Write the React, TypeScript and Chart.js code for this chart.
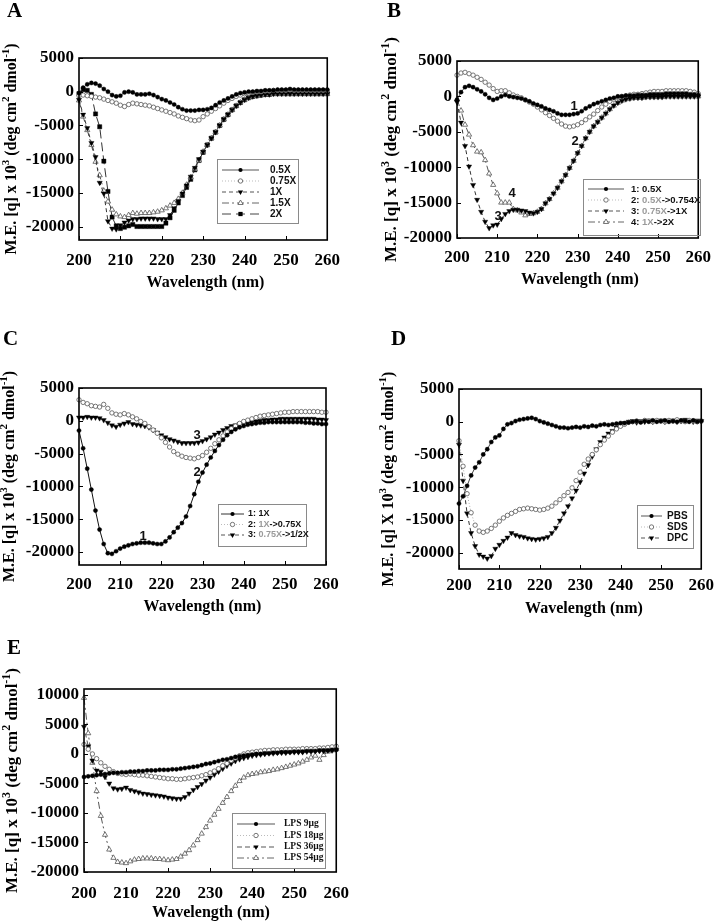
import React, { useEffect, useRef } from "react";
import { Chart, registerables } from "chart.js";
Chart.register(...registerables);

// ---------------- DATA ----------------
const wavelengths = [
  200, 201, 202, 203, 204, 205, 206, 207, 208, 209,
  210, 211, 212, 213, 214, 215, 216, 217, 218, 219,
  220, 221, 222, 223, 224, 225, 226, 227, 228, 229,
  230, 231, 232, 233, 234, 235, 236, 237, 238, 239,
  240, 241, 242, 243, 244, 245, 246, 247, 248, 249,
  250, 251, 252, 253, 254, 255, 256, 257, 258, 259,
  260,
];
const xTicks = [200, 210, 220, 230, 240, 250, 260];
const yTicksStd = [5000, 0, -5000, -10000, -15000, -20000];
const yTicksE = [10000, 5000, 0, -5000, -10000, -15000, -20000];

// Panel A
const a05 = [
  -200, 600, 1100, 1300, 1200, 900, 400, 0, -500, -700,
  -600, -100, 0, -100, -400, -400, -400, -300, -500, -800,
  -1100, -1300, -1600, -1900, -2300, -2600, -2800, -2800, -2800, -2700,
  -2700, -2600, -2400, -2000, -1600, -1300, -1000, -700, -400, -200,
  -100, 0, 0, 100, 100, 200, 200, 200, 300, 300,
  300, 400, 300, 300, 300, 300, 300, 300, 300, 300,
  300,
];
const a075 = [
  -600, -500, -600, -700, -800, -900, -1100, -1300, -1500, -1700,
  -2000, -2200, -1900, -1700, -1800, -1900, -2000, -2100, -2300, -2500,
  -2700, -2900, -3100, -3300, -3600, -3800, -4000, -4200, -4300, -4200,
  -3700, -3300, -2900, -2500, -2100, -1700, -1300, -1000, -700, -500,
  -300, -200, -100, 0, 0, 100, 100, 200, 200, 200,
  200, 300, 200, 200, 200, 200, 200, 200, 200, 200,
  200,
];
const a1 = [
  -1200, -3400, -5400, -7600, -9700, -13500, -15100, -19200, -20300, -20400,
  -19800, -19400, -19100, -18900, -18900, -18800, -18800, -18800, -18800, -18900,
  -18900, -18900, -18300, -17300, -16200, -15100, -13900, -12600, -11300, -10000,
  -8900, -7900, -6900, -6000, -5000, -4100, -3400, -2700, -2100, -1600,
  -1200, -900, -700, -600, -500, -400, -400, -300, -300, -300,
  -300, -300, -300, -300, -300, -300, -300, -300, -300, -300,
  -300,
];
const a15 = [
  -1300, -3700, -5700, -7900, -10400, -12400, -14700, -16300, -17500, -18200,
  -18500, -18600, -18300, -18000, -18100, -18000, -18000, -18000, -17900, -17800,
  -17600, -17300, -16900, -16500, -15900, -15000, -13800, -12700, -11500, -10200,
  -8900, -7900, -6900, -6000, -5000, -4100, -3400, -2700, -2100, -1600,
  -1200, -900, -700, -600, -500, -400, -400, -300, -300, -300,
  -300, -300, -300, -300, -300, -300, -300, -300, -300, -300,
  -300,
];
const a2 = [
  -300, 300, 200, -400, -3300, -5200, -10300, -14800, -18600, -19900,
  -20300, -20100, -19900, -19700, -20000, -20000, -20000, -20000, -20000, -20000,
  -20000, -19500, -18700, -17600, -16500, -15400, -14200, -13000, -11600, -10200,
  -9000, -7900, -6900, -6000, -5000, -4100, -3400, -2700, -2100, -1600,
  -1200, -900, -700, -600, -500, -400, -400, -300, -300, -300,
  -300, -300, -300, -300, -300, -300, -300, -300, -300, -300,
  -300,
];

// Panel B
const b1 = [
  -500, 600, 1300, 1500, 1300, 1000, 700, 300, -200, -500,
  -300, 0, 200, 0, -100, -200, -300, -500, -700, -1000,
  -1200, -1400, -1700, -1900, -2100, -2400, -2600, -2600, -2600, -2500,
  -2400, -2100, -1700, -1400, -1100, -900, -700, -500, -300, -200,
  0, 0, 100, 100, 100, 200, 200, 200, 300, 300,
  300, 300, 400, 400, 400, 400, 400, 400, 300, 300,
  200,
];
const b2 = [
  3000, 3300, 3400, 3200, 3000, 2700, 2400, 2000, 1600, 1100,
  700, 800, 800, 500, 200, 0, -200, -500, -800, -1100,
  -1500, -1900, -2300, -2700, -3100, -3500, -3900, -4200, -4300, -4200,
  -4000, -3700, -3300, -2900, -2500, -2000, -1500, -1100, -700, -400,
  -100, 0, 100, 200, 300, 300, 400, 500, 600, 700,
  700, 700, 800, 800, 800, 800, 800, 800, 700, 600,
  400,
];
const b3 = [
  -800, -3700, -7000, -9900, -12500, -14600, -16300, -17700, -18600, -18200,
  -18100, -17300, -16600, -16200, -16000, -16000, -16100, -16200, -16400, -16500,
  -16300, -15900, -15100, -14500, -13700, -12900, -12000, -11100, -10100, -9100,
  -8000, -7000, -5900, -5000, -4200, -3600, -3000, -2400, -1800, -1300,
  -900, -600, -400, -300, -200, -200, -200, -100, -100, -100,
  -100, -100, 0, 0, 0, 0, 0, 0, 0, 0,
  0,
];
const b4 = [
  -400, -2000, -4000, -5400, -6900, -7800, -7900, -9000, -10900, -12500,
  -13700, -15000, -15000, -15000, -15900, -16100, -16400, -16800, -16600, -16500,
  -16300, -15900, -15100, -14500, -13700, -12900, -12000, -11100, -10100, -9100,
  -8000, -7000, -5900, -5000, -4200, -3600, -3000, -2400, -1800, -1300,
  -900, -600, -400, -300, -200, -200, -200, -100, -100, -100,
  -100, -100, 0, 0, 0, 0, 0, 0, 0, 0,
  0,
];

// Panel C
const c1 = [
  -1500, -4200, -7300, -10500, -13700, -16600, -18800, -20200, -20300, -19900,
  -19500, -19200, -19000, -18800, -18700, -18600, -18600, -18600, -18700, -18800,
  -18800, -18400, -17800, -17000, -16300, -15600, -14600, -13000, -11200, -9300,
  -7900, -6700, -5600, -4600, -3700, -2900, -2200, -1700, -1300, -1000,
  -800, -600, -500, -400, -300, -300, -200, -200, -200, -200,
  -200, -200, -200, -200, -200, -300, -300, -400, -400, -500,
  -500,
];
const c2 = [
  3200, 2800, 2600, 2300, 2200, 2100, 2500, 1900, 1200, 1000,
  900, 1100, 900, 600, 300, -100, -400, -900, -1400, -1900,
  -2600, -3300, -4000, -4700, -5100, -5400, -5600, -5700, -5800, -5600,
  -5300, -4800, -4200, -3500, -2900, -2300, -1700, -1200, -800, -400,
  -100, 100, 300, 500, 700, 800, 900, 1000, 1100, 1200,
  1300, 1300, 1400, 1400, 1400, 1400, 1400, 1400, 1400, 1300,
  1300,
];
const c3 = [
  500, 500, 600, 500, 500, 400, 100, -300, -700, -900,
  -600, -400, -200, -500, -600, -700, -800, -1000, -1400, -1800,
  -2200, -2500, -2800, -3000, -3200, -3400, -3400, -3400, -3400, -3300,
  -3100, -2800, -2500, -2100, -1800, -1400, -1100, -800, -700, -500,
  -400, -300, -200, -100, 0, 100, 100, 200, 200, 300,
  300, 300, 300, 300, 300, 300, 300, 300, 200, 200,
  100,
];

// Panel D
const dPBS = [
  -12500, -11400, -9800, -8200, -7000, -6200, -5000, -4200, -3100, -2400,
  -2100, -1100, -400, -200, 100, 300, 400, 500, 600, 400,
  100, -100, -300, -500, -700, -900, -900, -1000, -900, -800,
  -900, -700, -800, -600, -700, -500, -400, -500, -400, -300,
  -200, -200, -100, 0, 100, -100, 100, 0, 200, 0,
  100, 200, 0, 100, 0, 200, 100, 0, 200, 0,
  100,
];
const dSDS = [
  -2900, -6800, -11000, -13900, -15800, -16700, -16900, -16700, -16300, -15800,
  -15200, -14700, -14300, -14000, -13700, -13400, -13300, -13200, -13300, -13400,
  -13500, -13400, -13200, -12900, -12400, -11900, -11300, -10800, -10100, -9000,
  -7700, -6500, -5700, -5000, -4300, -3500, -2800, -2200, -1600, -1100,
  -700, -400, -100, 0, 100, 0, 200, 100, 0, 200,
  100, 0, 200, 100, 300, 100, 0, 200, 100, 0,
  100,
];
const dDPC = [
  -3500, -9000, -14000, -17000, -19000, -20300, -20600, -20900, -20500, -19400,
  -18800, -18200, -17700, -17000, -17300, -17500, -17600, -17800, -17900, -18000,
  -17900, -17800, -17600, -17000, -16200, -15100, -14000, -12900, -11700, -10500,
  -9200, -7900, -6600, -5300, -4200, -3100, -2400, -1800, -1400, -900,
  -500, -200, 0, 100, -100, 100, 0, 200, 0, 100,
  200, 0, 100, 200, 0, 100, 300, 100, 0, 200,
  100,
];

// Panel E
const e9 = [
  -3900, -3800, -3700, -3600, -3500, -3400, -3300, -3200, -3200, -3100,
  -3100, -3000, -3000, -2900, -2900, -2800, -2800, -2800, -2700, -2700,
  -2700, -2600, -2600, -2500, -2400, -2300, -2200, -2100, -1900, -1700,
  -1600, -1400, -1200, -1000, -900, -700, -500, -400, -300, -200,
  -100, 0, 0, 100, 100, 200, 200, 300, 300, 300,
  400, 400, 400, 500, 500, 500, 600, 600, 600, 700,
  700,
];
const e18 = [
  1600, 800, 0, -800, -1500, -2100, -2600, -3000, -3300, -3400,
  -3500, -3400, -3500, -3600, -3600, -3700, -3800, -3900, -4000, -4100,
  -4200, -4200, -4300, -4300, -4200, -4100, -4000, -3900, -3700, -3500,
  -3200, -2900, -2500, -2000, -1600, -1100, -700, -300, 0, 200,
  300, 400, 500, 600, 600, 700, 700, 700, 800, 800,
  800, 800, 900, 900, 900, 900, 1000, 1000, 1100, 1200,
  1300,
];
const e36 = [
  4600, 1300, -1100, -2800, -3000, -3900, -5000, -5800, -6000, -5900,
  -5700, -6100, -6300, -6500, -6700, -6800, -6900, -7000, -7100, -7200,
  -7400, -7500, -7600, -7600, -7300, -6700, -6100, -5600, -5100, -4500,
  -4000, -3500, -3000, -2500, -2000, -1600, -1200, -900, -700, -500,
  -300, -200, -100, 0, 100, 100, 200, 200, 200, 300,
  300, 300, 300, 400, 400, 500, 500, 500, 600, 600,
  700,
];
const e54 = [
  9500, 3500, -1500, -6300, -10500, -13700, -16200, -17600, -18300, -18400,
  -18500, -18200, -17900, -17800, -17700, -17700, -17700, -17800, -17800, -17900,
  -18000, -17900, -17800, -17400, -16900, -16300, -15500, -14600, -13500, -12400,
  -11300, -10300, -9300, -8300, -7300, -6300, -5400, -4600, -4000, -3600,
  -3400, -3300, -3100, -3000, -2900, -2700, -2600, -2400, -2200, -2000,
  -1800, -1600, -1300, -1000, -600, -300, -1000, -200, 400, 600,
  800,
];

// ---------------- STYLES ----------------
const SERIF = '"Liberation Serif", "Times New Roman", serif';
const SANS = '"Liberation Sans", Arial, sans-serif';
const GREY = "#9a9a9a";

type MarkerKind = "circle" | "triDown" | "triUp" | "square";
type Sty = {
  line: string; dash: number[]; lw: number;
  legColor: string; legDash: number[]; legW: number;
  marker: MarkerKind; fill: boolean; r: number;
};
const STY: Record<string, Sty> = {
  solidCircle: { line: "#444", dash: [], lw: 1, legColor: "#aaa", legDash: [], legW: 2, marker: "circle", fill: true, r: 2.1 },
  solidCircleBlack: { line: "#111", dash: [], lw: 1, legColor: "#333", legDash: [], legW: 1, marker: "circle", fill: true, r: 2.1 },
  dotOpenCircle: { line: "#aaa", dash: [1, 2], lw: 1, legColor: "#bbb", legDash: [1, 2], legW: 1, marker: "circle", fill: false, r: 2.2 },
  dashTriDown: { line: "#333", dash: [4, 3], lw: 1, legColor: "#555", legDash: [4, 3], legW: 1, marker: "triDown", fill: true, r: 3 },
  dashTriDownGrey: { line: "#555", dash: [4, 3], lw: 1, legColor: "#aaa", legDash: [5, 3], legW: 2, marker: "triDown", fill: true, r: 3 },
  dashDotTriUp: { line: "#555", dash: [7, 3, 2, 3], lw: 1, legColor: "#666", legDash: [7, 3, 2, 3], legW: 1, marker: "triUp", fill: false, r: 3 },
  longDashSquare: { line: "#333", dash: [9, 4], lw: 1, legColor: "#444", legDash: [9, 5], legW: 1, marker: "square", fill: true, r: 3 },
};

type Seg = { t: string; sup?: boolean; c?: string };
type Series = { data: number[]; style: string; legend: Seg[] };
type Panel = {
  letter: string; letterPos: [number, number];
  canvas: { x: number; y: number; w: number; h: number };
  plot: { l: number; t: number; r: number; b: number };
  yMin: number; yMax: number; yTicks: number[];
  xPad: number;
  yTitle: Seg[]; yTitleX: number; yTitleSize: number;
  xTitleY: number;
  series: Series[];
  legend: { x: number; y: number; w: number; h: number; rows: number[]; s0: number; s1: number; tx: number; font: string };
  notes: { t: string; x: number; y: number }[];
};

const yTitleStd: Seg[] = [
  { t: "M.E. [q] x 10" }, { t: "3", sup: true }, { t: " (deg cm" }, { t: "2", sup: true },
  { t: " dmol" }, { t: "-1", sup: true }, { t: ")" },
];
const yTitleD: Seg[] = [
  { t: "M.E. [q] X 10" }, { t: "3", sup: true }, { t: " (deg cm" }, { t: "2", sup: true },
  { t: " dmol" }, { t: "-1", sup: true }, { t: ")" },
];

const PANELS: Panel[] = [
  {
    letter: "A", letterPos: [7, 17],
    canvas: { x: 0, y: 0, w: 350, h: 298 },
    plot: { l: 79, t: 58, r: 332, b: 240 },
    yMin: -22000, yMax: 5000, yTicks: yTicksStd, xPad: 10,
    yTitle: yTitleStd, yTitleX: 12, yTitleSize: 16, xTitleY: 283,
    series: [
      { data: a05, style: "solidCircle", legend: [{ t: "0.5X" }] },
      { data: a075, style: "dotOpenCircle", legend: [{ t: "0.75X" }] },
      { data: a1, style: "dashTriDown", legend: [{ t: "1X" }] },
      { data: a15, style: "dashDotTriUp", legend: [{ t: "1.5X" }] },
      { data: a2, style: "longDashSquare", legend: [{ t: "2X" }] },
    ],
    legend: { x: 217, y: 159, w: 81, h: 64, rows: [170, 181, 192, 203, 214], s0: 222, s1: 259, tx: 270, font: `bold 10px ${SANS}` },
    notes: [],
  },
  {
    letter: "B", letterPos: [387, 17],
    canvas: { x: 360, y: 0, w: 360, h: 298 },
    plot: { l: 457, t: 61, r: 703, b: 238 },
    yMin: -20000, yMax: 5000, yTicks: yTicksStd, xPad: 9,
    yTitle: yTitleStd, yTitleX: 392, yTitleSize: 17, xTitleY: 280,
    series: [
      { data: b1, style: "solidCircle", legend: [{ t: "1: 0.5X" }] },
      { data: b2, style: "dotOpenCircle", legend: [{ t: "2: " }, { t: "0.5X", c: GREY }, { t: "->0.754X" }] },
      { data: b3, style: "dashTriDown", legend: [{ t: "3: " }, { t: "0.75X", c: GREY }, { t: "->1X" }] },
      { data: b4, style: "dashDotTriUp", legend: [{ t: "4: " }, { t: "1X", c: GREY }, { t: "->2X" }] },
    ],
    legend: { x: 583, y: 179, w: 117, h: 56, rows: [189, 200, 211, 222], s0: 588, s1: 624, tx: 631, font: `bold 9.5px ${SANS}` },
    notes: [
      { t: "1", x: 574, y: 106 }, { t: "2", x: 575, y: 141 },
      { t: "4", x: 512, y: 193 }, { t: "3", x: 498, y: 216 },
    ],
  },
  {
    letter: "C", letterPos: [3, 345],
    canvas: { x: 0, y: 300, w: 350, h: 325 },
    plot: { l: 79, t: 388, r: 326, b: 565 },
    yMin: -22000, yMax: 5000, yTicks: yTicksStd, xPad: 9,
    yTitle: yTitleStd, yTitleX: 10, yTitleSize: 16, xTitleY: 607,
    series: [
      { data: c1, style: "solidCircleBlack", legend: [{ t: "1: 1X" }] },
      { data: c2, style: "dotOpenCircle", legend: [{ t: "2: " }, { t: "1X", c: GREY }, { t: "->0.75X" }] },
      { data: c3, style: "dashTriDown", legend: [{ t: "3: " }, { t: "0.75X", c: GREY }, { t: "->1/2X" }] },
    ],
    legend: { x: 218, y: 504, w: 88, h: 42, rows: [514, 524.5, 535], s0: 221, s1: 244, tx: 248, font: `bold 9px ${SANS}` },
    notes: [
      { t: "1", x: 143, y: 536 }, { t: "2", x: 197, y: 472 }, { t: "3", x: 197, y: 435 },
    ],
  },
  {
    letter: "D", letterPos: [391, 345],
    canvas: { x: 360, y: 300, w: 360, h: 325 },
    plot: { l: 459, t: 389, r: 709, b: 569 },
    yMin: -22500, yMax: 5000, yTicks: yTicksStd, xPad: 6,
    yTitle: yTitleD, yTitleX: 389, yTitleSize: 16, xTitleY: 609,
    series: [
      { data: dPBS, style: "solidCircle", legend: [{ t: "PBS" }] },
      { data: dSDS, style: "dotOpenCircle", legend: [{ t: "SDS" }] },
      { data: dDPC, style: "dashTriDown", legend: [{ t: "DPC" }] },
    ],
    legend: { x: 637, y: 505, w: 56, h: 43, rows: [516, 527, 538], s0: 641, s1: 662, tx: 667, font: `bold 10px ${SANS}` },
    notes: [],
  },
  {
    letter: "E", letterPos: [7, 654],
    canvas: { x: 0, y: 625, w: 360, h: 298 },
    plot: { l: 84, t: 689, r: 338, b: 872 },
    yMin: -20000, yMax: 11000, yTicks: yTicksE, xPad: 11,
    yTitle: yTitleStd, yTitleX: 13, yTitleSize: 17, xTitleY: 913,
    series: [
      { data: e9, style: "solidCircle", legend: [{ t: "LPS 9µg" }] },
      { data: e18, style: "dotOpenCircle", legend: [{ t: "LPS 18µg" }] },
      { data: e36, style: "dashTriDownGrey", legend: [{ t: "LPS 36µg" }] },
      { data: e54, style: "dashDotTriUp", legend: [{ t: "LPS 54µg" }] },
    ],
    legend: { x: 232, y: 813, w: 93, h: 55, rows: [824, 835.5, 847, 858], s0: 237, s1: 275, tx: 284, font: `bold 9.5px ${SERIF}` },
    notes: [],
  },
];

// ---------------- DRAW HELPERS ----------------
function drawMarker(ctx: CanvasRenderingContext2D, s: Sty, x: number, y: number) {
  const r = s.r;
  ctx.save();
  ctx.setLineDash([]);
  ctx.beginPath();
  if (s.marker === "circle") ctx.arc(x, y, r, 0, Math.PI * 2);
  else if (s.marker === "square") ctx.rect(x - r * 0.71, y - r * 0.71, r * 1.42, r * 1.42);
  else if (s.marker === "triUp") {
    ctx.moveTo(x, y - r); ctx.lineTo(x + r * 0.866, y + r * 0.5); ctx.lineTo(x - r * 0.866, y + r * 0.5); ctx.closePath();
  } else {
    ctx.moveTo(x, y + r); ctx.lineTo(x + r * 0.866, y - r * 0.5); ctx.lineTo(x - r * 0.866, y - r * 0.5); ctx.closePath();
  }
  if (s.fill) { ctx.fillStyle = "#000"; ctx.fill(); }
  else { ctx.fillStyle = "#fff"; ctx.fill(); ctx.strokeStyle = "#555"; ctx.lineWidth = 0.8; ctx.stroke(); }
  ctx.restore();
}

function makePlugin(p: Panel) {
  return {
    id: "deco" + p.letter,
    afterDraw(chart: any) {
      const ctx: CanvasRenderingContext2D = chart.ctx;
      const ca = chart.chartArea;
      const ox = p.canvas.x, oy = p.canvas.y;
      ctx.save();
      // frame
      ctx.setLineDash([]);
      ctx.strokeStyle = "#000";
      ctx.lineWidth = 1.6;
      ctx.strokeRect(ca.left, ca.top, ca.right - ca.left, ca.bottom - ca.top);
      // inward ticks
      ctx.lineWidth = 1;
      const xs = chart.scales.x, ys = chart.scales.y;
      ctx.beginPath();
      for (const v of xTicks) {
        const px = Math.round(xs.getPixelForValue(v)) + 0.5;
        ctx.moveTo(px, ca.bottom); ctx.lineTo(px, ca.bottom - 4);
      }
      for (const v of p.yTicks) {
        const py = Math.round(ys.getPixelForValue(v)) + 0.5;
        ctx.moveTo(ca.left, py); ctx.lineTo(ca.left + 4, py);
      }
      ctx.stroke();

      ctx.fillStyle = "#000";
      // panel letter
      ctx.font = `bold 21px ${SERIF}`;
      ctx.textAlign = "left";
      ctx.textBaseline = "alphabetic";
      ctx.fillText(p.letter, p.letterPos[0] - ox, p.letterPos[1] - oy);

      // x title
      ctx.font = `bold 16px ${SERIF}`;
      ctx.textAlign = "center";
      ctx.textBaseline = "middle";
      ctx.fillText("Wavelength (nm)", (p.plot.l + p.plot.r) / 2 - ox, p.xTitleY - oy);

      // y title (rotated, with superscripts)
      const mainF = `bold ${p.yTitleSize}px ${SERIF}`;
      const supF = `bold ${Math.round(p.yTitleSize * 0.68)}px ${SERIF}`;
      let total = 0;
      for (const s of p.yTitle) { ctx.font = s.sup ? supF : mainF; total += ctx.measureText(s.t).width; }
      ctx.save();
      ctx.translate(p.yTitleX - ox, (p.plot.t + p.plot.b) / 2 - oy);
      ctx.rotate(-Math.PI / 2);
      ctx.textAlign = "left";
      ctx.textBaseline = "middle";
      let pos = -total / 2;
      for (const s of p.yTitle) {
        ctx.font = s.sup ? supF : mainF;
        ctx.fillText(s.t, pos, s.sup ? -p.yTitleSize * 0.38 : 0);
        pos += ctx.measureText(s.t).width;
      }
      ctx.restore();

      // legend
      const L = p.legend;
      ctx.strokeStyle = "#8a8a8a";
      ctx.lineWidth = 1;
      ctx.strokeRect(L.x - ox + 0.5, L.y - oy + 0.5, L.w, L.h);
      p.series.forEach((s, i) => {
        const st = STY[s.style];
        const y = L.rows[i] - oy;
        ctx.save();
        ctx.strokeStyle = st.legColor;
        ctx.lineWidth = st.legW;
        ctx.setLineDash(st.legDash);
        ctx.beginPath();
        ctx.moveTo(L.s0 - ox, y); ctx.lineTo(L.s1 - ox, y);
        ctx.stroke();
        ctx.restore();
        drawMarker(ctx, st, (L.s0 + L.s1) / 2 - ox, y);
        ctx.font = L.font;
        ctx.textAlign = "left";
        ctx.textBaseline = "middle";
        let tx = L.tx - ox;
        for (const seg of s.legend) {
          ctx.fillStyle = seg.c || "#111";
          ctx.fillText(seg.t, tx, y);
          tx += ctx.measureText(seg.t).width;
        }
      });

      // annotations
      ctx.fillStyle = "#111";
      ctx.font = `bold 13px ${SANS}`;
      ctx.textAlign = "center";
      ctx.textBaseline = "middle";
      for (const n of p.notes) ctx.fillText(n.t, n.x - ox, n.y - oy);
      ctx.restore();
    },
  };
}

function PanelChart({ p }: { p: Panel }) {
  const ref = useRef<HTMLCanvasElement | null>(null);
  useEffect(() => {
    const canvas = ref.current;
    if (!canvas) return;
    const tickFont = { family: SERIF, size: 17, weight: "bold" as const };
    const datasets = p.series.map((s) => {
      const st = STY[s.style];
      const pointStyle = st.marker === "circle" ? "circle" : st.marker === "square" ? "rect" : "triangle";
      return {
        data: s.data.map((v, i) => ({ x: wavelengths[i], y: v })),
        borderColor: st.line,
        borderWidth: st.lw,
        borderDash: st.dash,
        showLine: true,
        fill: false,
        tension: 0,
        clip: false as const,
        pointStyle,
        pointRotation: st.marker === "triDown" ? 180 : 0,
        pointRadius: st.r,
        pointBackgroundColor: st.fill ? "#000" : "#fff",
        pointBorderColor: st.fill ? "#000" : "#555",
        pointBorderWidth: st.fill ? 0.4 : 0.8,
      };
    });
    const chart = new Chart(canvas, {
      type: "line",
      data: { datasets: datasets as any },
      options: {
        responsive: false,
        animation: false,
        devicePixelRatio: 1,
        events: [],
        layout: {
          padding: {
            left: 0,
            top: p.plot.t - p.canvas.y,
            right: p.canvas.x + p.canvas.w - p.plot.r,
            bottom: 0,
          },
        },
        plugins: { legend: { display: false }, tooltip: { enabled: false } },
        scales: {
          x: {
            type: "linear",
            min: 200,
            max: 260,
            grid: { display: false, drawTicks: false },
            border: { display: false },
            ticks: {
              stepSize: 10, autoSkip: false, maxRotation: 0, minRotation: 0,
              padding: p.xPad, color: "#000", font: tickFont,
              callback: (v: any) => String(v),
            },
            afterBuildTicks: (s: any) => { s.ticks = xTicks.map((v) => ({ value: v })); },
            afterFit: (s: any) => { s.height = p.canvas.y + p.canvas.h - p.plot.b; },
          },
          y: {
            type: "linear",
            min: p.yMin,
            max: p.yMax,
            grid: { display: false, drawTicks: false },
            border: { display: false },
            ticks: { padding: 5, color: "#000", font: tickFont, callback: (v: any) => String(v) },
            afterBuildTicks: (s: any) => { s.ticks = p.yTicks.map((v) => ({ value: v })); },
            afterFit: (s: any) => { s.width = p.plot.l - p.canvas.x; },
          },
        },
      } as any,
      plugins: [makePlugin(p)],
    });
    return () => chart.destroy();
  }, [p]);
  return (
    <canvas
      ref={ref}
      width={p.canvas.w}
      height={p.canvas.h}
      style={{ position: "absolute", left: p.canvas.x, top: p.canvas.y, width: p.canvas.w, height: p.canvas.h }}
    />
  );
}

export default function App() {
  return (
    <div style={{ position: "absolute", left: 0, top: 0, width: 720, height: 923, background: "#fff", overflow: "hidden" }}>
      {PANELS.map((p) => (
        <PanelChart key={p.letter} p={p} />
      ))}
    </div>
  );
}
